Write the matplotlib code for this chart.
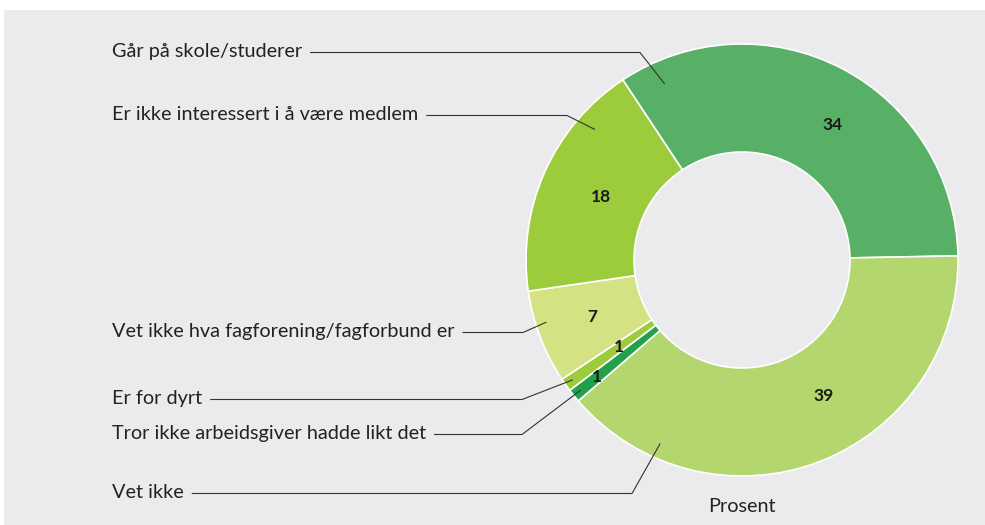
import matplotlib
matplotlib.use("Agg")
import numpy as np
import matplotlib.pyplot as plt
from matplotlib import font_manager
from matplotlib.patches import Rectangle

# data -----------------------------------------------------------------

categories = [
    "Går på skole/studerer",
    "Vet ikke",
    "Tror ikke arbeidsgiver hadde likt det",
    "Er for dyrt",
    "Vet ikke hva fagforening/fagforbund er",
    "Er ikke interessert i å være medlem",
]
values = [34, 39, 1, 1, 7, 18]
colors = ["#57b065", "#b3d66e", "#21a24a", "#9ccb3c", "#d4e283", "#9ccb3c"]
unit_label = "Prosent"

# layout (pixels) -----------------------------------------------------

W, H = 985, 525
CX, CY, R = 742, 260, 216
text_x = 112
text_base_y = [57, 498, 439, 404, 337, 120]
elbow_x = [640, 632, 522, 522, 523, 567]
anchor_frac = [0.08, 0.82, 0.5, 0.5, 0.63, 0.77]
anchor_r = [0.89, 0.93, 0.96, 0.96, 0.95, 0.91]
num_frac = [0.55, 0.43, 0.5, 0.5, 0.5, 0.5]
num_r = [0.755, 0.735, 0.86, 0.70, 0.74, 0.715]

installed = {f.name for f in font_manager.fontManager.ttflist}
FONT = "Lato" if "Lato" in installed else "DejaVu Sans"
NUM_FONT = "Liberation Sans Narrow" if "Liberation Sans Narrow" in installed else FONT

BG = "#ebebed"
TXT = "#222222"

fig = plt.figure(figsize=(W / 100, H / 100), dpi=100, facecolor="white")

ax_bg = fig.add_axes([0, 0, 1, 1], zorder=0)
ax_bg.set_xlim(0, W)
ax_bg.set_ylim(H, 0)
ax_bg.axis("off")
ax_bg.add_patch(Rectangle((4, 10), W - 4, H - 10, color=BG, lw=0))

ax = fig.add_axes([(CX - R) / W, (H - CY - R) / H, 2 * R / W, 2 * R / H], zorder=1)
wedges, _ = ax.pie(
    values,
    colors=colors,
    startangle=123.5,
    counterclock=False,
    radius=1.0,
    wedgeprops=dict(width=0.5, edgecolor="white", linewidth=1.2),
)
ax.set_xlim(-1, 1)
ax.set_ylim(-1, 1)
ax.axis("off")

ax_ov = fig.add_axes([0, 0, 1, 1], zorder=2)
ax_ov.set_xlim(0, W)
ax_ov.set_ylim(H, 0)
ax_ov.axis("off")
ax_ov.patch.set_alpha(0)


def to_px(ang_deg, r):
    a = np.deg2rad(ang_deg)
    disp = ax.transData.transform((r * np.cos(a), r * np.sin(a)))
    return ax_ov.transData.inverted().transform(disp)


renderer = fig.canvas.get_renderer()

for i, w in enumerate(wedges):
    span = w.theta2 - w.theta1
    # tall i ringen
    ang = w.theta2 - num_frac[i] * span
    px, py = to_px(ang, num_r[i])
    ax_ov.text(px, py, str(values[i]), ha="center", va="center",
               fontsize=12.5, fontweight="bold", family=NUM_FONT, color="#1a1a1a")

    # kategori + strek
    t = ax_ov.text(text_x, text_base_y[i], categories[i], ha="left", va="baseline",
                   fontsize=14.3, family=FONT, color=TXT)
    bb = t.get_window_extent(renderer=renderer)
    x_end = ax_ov.transData.inverted().transform((bb.x1, bb.y0))[0]
    ly = text_base_y[i] - 4.5
    ang = w.theta2 - anchor_frac[i] * span
    axp, ayp = to_px(ang, anchor_r[i])
    ax_ov.plot([x_end + 8, elbow_x[i], axp], [ly, ly, ayp],
               color="#333333", lw=0.8, solid_capstyle="butt")

ax_ov.text(CX, 507, unit_label, ha="center", va="center", fontsize=14.3,
           family=FONT, color=TXT)

fig.savefig("out.png", dpi=100, facecolor="white")
